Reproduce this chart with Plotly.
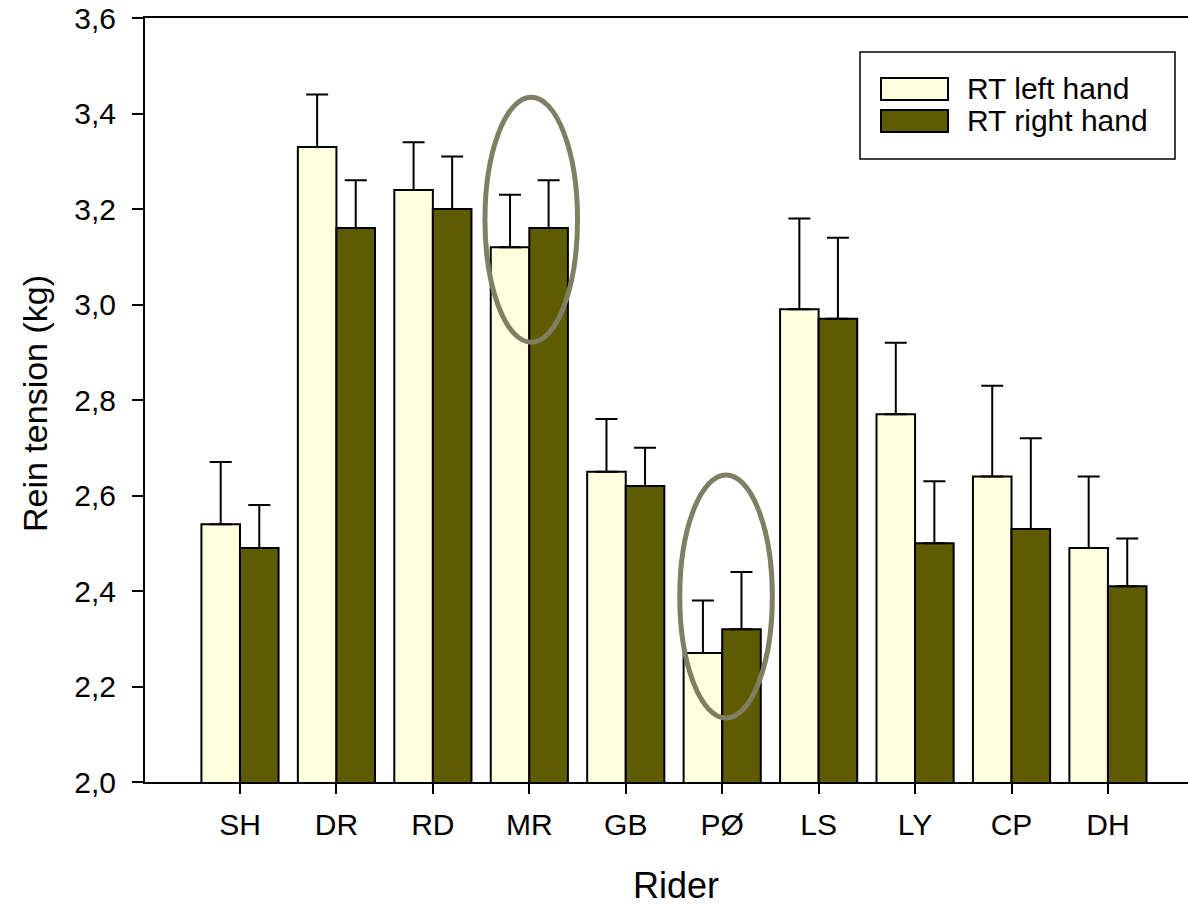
import plotly.graph_objects as go

# Rein tension per rider, mean and upper error (kg)
riders = ["SH", "DR", "RD", "MR", "GB", "PØ", "LS", "LY", "CP", "DH"]
left_hand = [2.54, 3.33, 3.24, 3.12, 2.65, 2.27, 2.99, 2.77, 2.64, 2.49]
left_err = [0.13, 0.11, 0.10, 0.11, 0.11, 0.11, 0.19, 0.15, 0.19, 0.15]
right_hand = [2.49, 3.16, 3.20, 3.16, 2.62, 2.32, 2.97, 2.50, 2.53, 2.41]
right_err = [0.09, 0.10, 0.11, 0.10, 0.08, 0.12, 0.17, 0.13, 0.19, 0.10]
y_ticks = [2.0, 2.2, 2.4, 2.6, 2.8, 3.0, 3.2, 3.4, 3.6]
y_tick_text = ["2,0", "2,2", "2,4", "2,6", "2,8", "3,0", "3,2", "3,4", "3,6"]
x_title = "Rider"
y_title = "Rein tension (kg)"

LIGHT = "#FFFFE0"
DARK = "#5E5B00"
RING = "#7F7F64"
FONT = "Liberation Sans, Arial, sans-serif"

W, H = 1188, 905
M_L, M_R, M_T, M_B = 145, 0, 18, 123
PW, PH = W - M_L - M_R, H - M_T - M_B


def px(x):
    return (x - M_L) / PW


def py(y):
    return (H - M_B - y) / PH


x_idx = list(range(len(riders)))

fig = go.Figure()
fig.add_trace(go.Bar(
    x=x_idx, y=left_hand, name="RT left hand",
    marker=dict(color=LIGHT, line=dict(color="black", width=2)),
    error_y=dict(type="data", array=left_err, arrayminus=[0] * len(left_err),
                 symmetric=False, color="black", thickness=2, width=11),
))
fig.add_trace(go.Bar(
    x=x_idx, y=right_hand, name="RT right hand",
    marker=dict(color=DARK, line=dict(color="black", width=2)),
    error_y=dict(type="data", array=right_err, arrayminus=[0] * len(right_err),
                 symmetric=False, color="black", thickness=2, width=11),
))

shapes = [
    # highlighted riders
    dict(type="circle", xref="x", yref="y", x0=2.54, x1=3.50, y0=2.921, y1=3.434,
         line=dict(color=RING, width=5)),
    dict(type="circle", xref="x", yref="y", x0=4.56, x1=5.52, y0=2.134, y1=2.643,
         line=dict(color=RING, width=5)),
    # legend frame and swatches
    dict(type="rect", xref="paper", yref="paper", x0=px(860), x1=px(1175),
         y0=py(159), y1=py(52), line=dict(color="black", width=1.5), fillcolor="white",
         layer="above"),
    dict(type="rect", xref="paper", yref="paper", x0=px(881), x1=px(948),
         y0=py(100), y1=py(78), line=dict(color="black", width=2), fillcolor=LIGHT,
         layer="above"),
    dict(type="rect", xref="paper", yref="paper", x0=px(881), x1=px(948),
         y0=py(132), y1=py(110), line=dict(color="black", width=2), fillcolor=DARK,
         layer="above"),
]

annotations = [
    dict(text=fig.data[0].name, xref="paper", yref="paper", x=px(965), y=py(89),
         xanchor="left", yanchor="middle", showarrow=False,
         font=dict(family=FONT, size=30, color="black")),
    dict(text=fig.data[1].name, xref="paper", yref="paper", x=px(965), y=py(121),
         xanchor="left", yanchor="middle", showarrow=False,
         font=dict(family=FONT, size=30, color="black")),
    # axis titles
    dict(text=x_title, xref="paper", yref="paper", x=px(676), y=py(885),
         xanchor="center", yanchor="middle", showarrow=False,
         font=dict(family=FONT, size=36, color="black")),
    dict(text=y_title, xref="paper", yref="paper", x=px(35), y=py(404),
         xanchor="center", yanchor="middle", showarrow=False, textangle=-90,
         font=dict(family=FONT, size=34, color="black")),
]

fig.update_layout(
    width=W, height=H,
    margin=dict(l=M_L, r=M_R, t=M_T, b=M_B),
    paper_bgcolor="white", plot_bgcolor="white",
    barmode="group", bargap=0.2, bargroupgap=0,
    showlegend=False,
    font=dict(family=FONT, color="black"),
    shapes=shapes, annotations=annotations,
    xaxis=dict(
        tickmode="array", tickvals=x_idx, ticktext=riders,
        range=[-0.985, 9.83], showgrid=False, zeroline=False,
        showline=True, linecolor="black", linewidth=2, mirror=True,
        ticks="outside", ticklen=10, tickwidth=2, tickcolor="black",
        tickfont=dict(family=FONT, size=30), ticklabelstandoff=5,
    ),
    yaxis=dict(
        range=[2.0, 3.6], tickmode="array", tickvals=y_ticks, ticktext=y_tick_text,
        showgrid=False, zeroline=False,
        showline=True, linecolor="black", linewidth=2,
        ticks="outside", ticklen=11, tickwidth=2, tickcolor="black",
        tickfont=dict(family=FONT, size=30), ticklabelstandoff=10,
    ),
)

fig.write_html("out.html")
